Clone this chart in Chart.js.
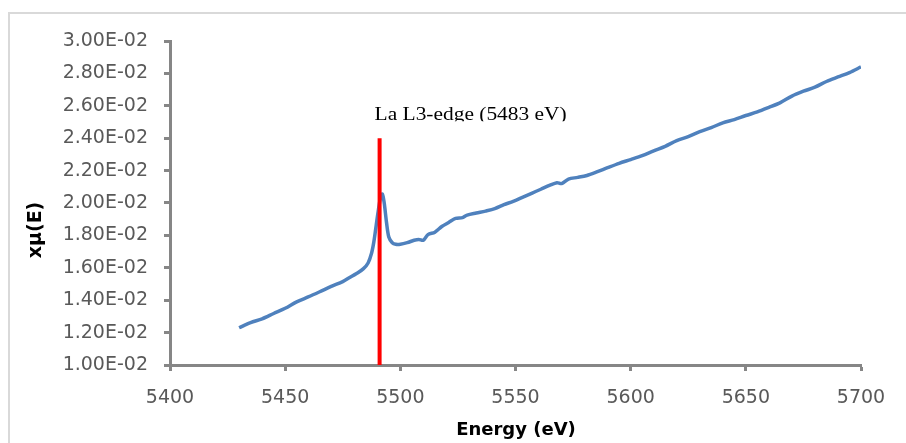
<!DOCTYPE html>
<html><head><meta charset="utf-8">
<script src="https://cdn.jsdelivr.net/npm/chart.js@4.4.1/dist/chart.umd.min.js"></script>
<style>html,body{margin:0;padding:0;background:#fff;overflow:hidden}#wrap{width:906px;height:443px}</style>
</head><body><div id="wrap"><canvas id="c" width="906" height="443"></canvas></div>
<script>
// ---- data ----
const energy = [5430,5435,5440,5445,5450,5455,5460,5465,5470,5475,5478,5481,5484,5486,5487.5,5488.5,5489.5,5490.5,5491.5,5492.2,5493,5494,5495,5496.5,5498,5500,5503,5506,5508,5510,5512,5515,5518,5521,5524,5527,5529,5533,5537,5541,5545,5549,5553,5557,5561,5565,5568,5570,5573,5577,5581,5585,5590,5595,5600,5605,5610,5615,5620,5625,5630,5635,5640,5645,5650,5655,5660,5665,5670,5675,5680,5685,5690,5695,5700];
const muE = [0.01230,0.01262,0.01285,0.01318,0.01350,0.01390,0.01420,0.01452,0.01485,0.01515,0.01540,0.01565,0.01595,0.01630,0.01690,0.01760,0.01860,0.01960,0.02040,0.02055,0.02000,0.01880,0.01790,0.01755,0.01745,0.01745,0.01755,0.01770,0.01775,0.01770,0.01805,0.01820,0.01855,0.01880,0.01905,0.01910,0.01925,0.01938,0.01950,0.01965,0.01990,0.02010,0.02035,0.02060,0.02085,0.02110,0.02125,0.02120,0.02148,0.02158,0.02170,0.02190,0.02218,0.02245,0.02268,0.02292,0.02322,0.02350,0.02385,0.02410,0.02440,0.02465,0.02495,0.02515,0.02540,0.02562,0.02590,0.02620,0.02660,0.02690,0.02715,0.02750,0.02778,0.02805,0.02840];
const edgeEnergy = [5491, 5491];
const edgeValues = [0.010, 0.024];
const xTickValues = [5400,5450,5500,5550,5600,5650,5700];
const yTickValues = [0.010,0.012,0.014,0.016,0.018,0.020,0.022,0.024,0.026,0.028,0.030];
const xTitle = "Energy (eV)";
const yTitle = "xμ(E)";
const edgeLabel = "La L3-edge (5483 eV)";

function fmtExp(v){
  const s = v.toExponential(2).toUpperCase();
  const m = s.match(/^(.*)E([+-])(\d+)$/);
  return m[1] + 'E' + m[2] + m[3].padStart(2,'0');
}

const seriesPts = energy.map((e,i)=>({x:e,y:muE[i]}));
const edgePts = edgeEnergy.map((e,i)=>({x:e,y:edgeValues[i]}));

const deco = {
  id:'deco',
  beforeDraw(chart){
    const c = chart.ctx; c.save();
    c.strokeStyle = '#d9d9d9'; c.lineWidth = 2;
    c.beginPath(); c.moveTo(9,443); c.lineTo(9,13); c.lineTo(906,13); c.stroke();
    c.restore();
  },
  afterDraw(chart){
    const c = chart.ctx, xs = chart.scales.x, ys = chart.scales.y;
    c.save(); c.fillStyle = '#000'; c.font = 'bold 19px "DejaVu Sans"';
    c.textAlign = 'center'; c.textBaseline = 'middle';
    c.translate(36,230); c.rotate(-Math.PI/2); c.fillText(yTitle,0,0); c.restore();
    c.save(); c.fillStyle = '#000'; c.font = 'bold 18px "DejaVu Sans"';
    c.textAlign = 'center'; c.textBaseline = 'middle';
    c.fillText(xTitle, 516, 430); c.restore();
    const px = xs.getPixelForValue(edgeEnergy[0]);
    const py = ys.getPixelForValue(edgeValues[1]);
    c.save(); c.beginPath(); c.rect(0,0,906,py-17); c.clip();
    c.translate(px-5, py-18); c.scale(1.19,1);
    c.font = '18px "Liberation Serif"'; c.textBaseline = 'alphabetic'; c.fillStyle = '#000';
    c.fillText(edgeLabel,0,0); c.restore();
  }
};

new Chart(document.getElementById('c'), {
  type: 'scatter',
  data: { datasets: [
    { data: seriesPts, showLine: true, borderColor: '#4f81bd', borderWidth: 3.5, pointRadius: 0, tension: 0.3, order: 2 },
    { data: edgePts, showLine: true, borderColor: '#ff0000', borderWidth: 4, pointRadius: 0, tension: 0, order: 1 }
  ]},
  options: {
    responsive: false, animation: false,
    layout: { padding: { left: 0, top: 41, right: 45, bottom: 0 } },
    plugins: { legend: { display: false }, tooltip: { enabled: false } },
    scales: {
      x: {
        type: 'linear', min: 5400, max: 5700,
        afterBuildTicks: s => { s.ticks = xTickValues.map(v=>({value:v})); },
        afterFit: s => { s.height = 78; },
        grid: { display: true, drawOnChartArea: false, drawTicks: true, tickLength: 6, tickWidth: 3, tickColor: '#868686', color: '#868686' },
        border: { display: true, color: '#868686', width: 3 },
        ticks: { color: '#595959', font: { family: 'DejaVu Sans', size: 19 }, padding: 16, maxRotation: 0, autoSkip: false, callback: v => String(v) }
      },
      y: {
        type: 'linear', min: 0.010, max: 0.030,
        afterBuildTicks: s => { s.ticks = yTickValues.map(v=>({value:v})); },
        afterFit: s => { s.width = 170; },
        grid: { display: true, drawOnChartArea: false, drawTicks: true, tickLength: 6, tickWidth: 3, tickColor: '#868686', color: '#868686' },
        border: { display: true, color: '#868686', width: 3 },
        ticks: { color: '#595959', font: { family: 'DejaVu Sans', size: 19 }, padding: 16, autoSkip: false, callback: v => fmtExp(v) }
      }
    }
  },
  plugins: [deco]
});
</script></body></html>
